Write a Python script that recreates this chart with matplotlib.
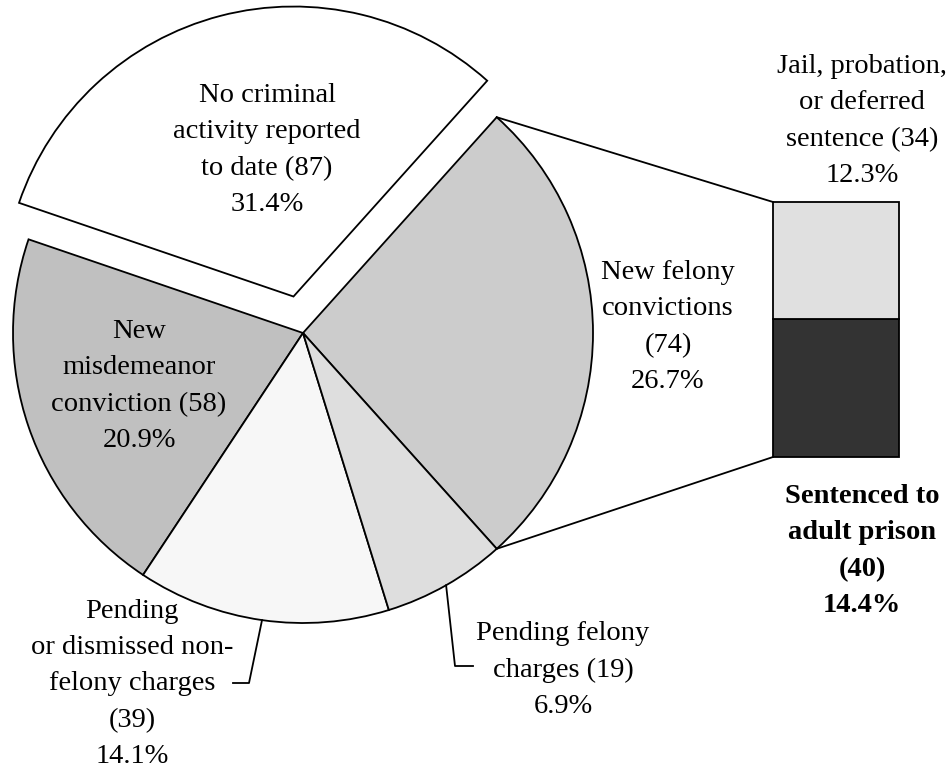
import numpy as np
import matplotlib
matplotlib.use("Agg")
import matplotlib.pyplot as plt

plt.rcParams['font.family'] = ['Liberation Serif', 'DejaVu Serif']

# pie data (counts), order: counter-clockwise starting from the felony slice
labels = ["New felony\nconvictions\n(74)\n26.7%",
          "No criminal\nactivity reported\nto date (87)\n31.4%",
          "New\nmisdemeanor\nconviction (58)\n20.9%",
          "Pending\nor dismissed non-\nfelony charges\n(39)\n14.1%",
          "Pending felony\ncharges (19)\n6.9%"]
counts = [74, 87, 58, 39, 19]
colors = ["#cccccc", "#ffffff", "#c0c0c0", "#f7f7f7", "#dedede"]
explode_frac = [0, 0.13, 0, 0, 0]

# breakdown of the felony slice
bar_labels = ["Sentenced to\nadult prison\n(40)\n14.4%",
              "Jail, probation,\nor deferred\nsentence (34)\n12.3%"]
bar_counts = [40, 34]
bar_colors = ["#333333", "#e0e0e0"]

W, H = 952, 769


def py(y):
    # pixel row -> data y
    return H - y


fig = plt.figure(figsize=(W / 100, H / 100), dpi=100)
ax = fig.add_axes([0, 0, 1, 1])

cx, cy, r = 303, py(333), 290
start = -360 * counts[0] / sum(counts) / 2
wedges, _ = ax.pie(counts, colors=colors, explode=[e * r for e in explode_frac],
                   startangle=start, counterclock=True, center=(cx, cy), radius=r,
                   wedgeprops=dict(edgecolor='black', linewidth=1.3))

# bar of pie
bx, bw = 836, 126
scale = 255 / sum(bar_counts)
bottom = py(457)
for c, col in zip(bar_counts, bar_colors):
    ax.bar(bx, c * scale, bottom=bottom, width=bw, color=col,
           edgecolor='black', linewidth=1.3)
    bottom += c * scale

# connector lines from the felony wedge to the bar
w0 = wedges[0]
t1, t2 = np.radians(w0.theta1), np.radians(w0.theta2)
ax.plot([cx + r * np.cos(t2), bx - bw / 2], [cy + r * np.sin(t2), py(457) + 255],
        color='black', lw=1.3)
ax.plot([cx + r * np.cos(t1), bx - bw / 2], [cy + r * np.sin(t1), py(457)],
        color='black', lw=1.3)

# leader lines for the two small slices
for i, (kx, ky, hx) in zip([3, 4], [(249, 683, 233), (455, 666, 473)]):
    w = wedges[i]
    a = np.radians((w.theta1 + w.theta2) / 2)
    ax.plot([cx + r * np.cos(a), kx, hx], [cy + r * np.sin(a), py(ky), py(ky)],
            color='black', lw=1.3)

fs = 20.5
ls = 1.59
label_pos = [(668, 327), (267, 150), (139, 386), (132, 684), (563, 670)]
for lab, (x, y) in zip(labels, label_pos):
    ax.text(x, py(y), lab, ha='center', va='center', fontsize=fs,
            linespacing=ls, color='black')

ax.text(862, py(551), bar_labels[0], ha='center', va='center', fontsize=fs,
        linespacing=ls, fontweight='bold', color='black')
ax.text(862, py(121), bar_labels[1], ha='center', va='center', fontsize=fs,
        linespacing=ls, color='black')

ax.set_xlim(0, W)
ax.set_ylim(0, H)
ax.axis('off')
fig.savefig("out.png", dpi=100)
